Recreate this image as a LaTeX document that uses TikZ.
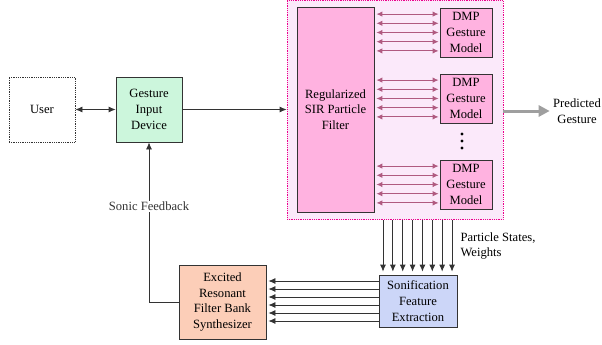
\documentclass[tikz,border=0pt]{standalone}
\usepackage{fontspec}
\setmainfont{Liberation Serif}
\usetikzlibrary{arrows.meta}

\definecolor{inputgreen}{RGB}{204,246,220}
\definecolor{filterpink}{RGB}{255,178,224}
\definecolor{cloudpink}{RGB}{251,233,250}
\definecolor{linkpink}{RGB}{176,90,128}
\definecolor{synthpeach}{RGB}{252,206,184}
\definecolor{featblue}{RGB}{204,214,248}

\tikzset{
  blk/.style={draw=black!80, line width=0.8pt, align=center, inner sep=1pt},
  link/.style={linkpink, line width=1pt, {Latex[length=6pt,width=5.5pt]}-{Latex[length=6pt,width=5.5pt]}},
  flow/.style={black!80, line width=0.8pt, -{Latex[length=7pt,width=6pt]}}
}

\begin{document}
\begin{tikzpicture}[x=1pt, y=-1pt, font=\fontsize{12.6}{15.7}\selectfont]
  \useasboundingbox (0,0) rectangle (602,345);

  % Particle filter group (dotted container)
  \node[draw=magenta, densely dotted, line width=0.8pt, fill=cloudpink,
        minimum width=216pt, minimum height=219pt] (cloud) at (395,110) {};
  \node[blk, fill=filterpink, minimum width=77pt, minimum height=205pt] (sir) at (335.5,109.5)
       {Regularized\\SIR Particle\\Filter};

  % Gesture models
  \node[blk, fill=filterpink, minimum width=52pt, minimum height=49pt] (dmpA) at (466,32.5) {DMP\\Gesture\\Model};
  \node[blk, fill=filterpink, minimum width=52pt, minimum height=49pt] (dmpB) at (466,98.5) {DMP\\Gesture\\Model};
  \node[blk, fill=filterpink, minimum width=52pt, minimum height=49pt] (dmpC) at (466,184.5) {DMP\\Gesture\\Model};
  \foreach \y in {134,141,148}
    \fill (462,\y) circle (1.6pt);

  % Links between filter and models
  \foreach \m in {dmpA, dmpB, dmpC}
    \foreach \dy in {-18.4,-9.2,0,9.2,18.4} {
      \path (\m.west) ++(-1,\dy) coordinate (tip);
      \draw[link] (sir.east |- tip) ++(2,0) -- (tip);
    }

  % User and input device
  \node[blk, draw=black!80, densely dotted, minimum width=66pt, minimum height=65pt] (user) at (42,109.5) {User};
  \node[blk, fill=inputgreen, minimum width=66pt, minimum height=65pt] (gid) at (149,109.5) {Gesture\\Input\\Device};
  \draw[flow, {Latex[length=7pt,width=6pt]}-{Latex[length=7pt,width=6pt]}] (user.east) -- (gid.west);
  \draw[flow] (gid.east) -- (gid.east -| cloud.west);

  % Output
  \node[align=center] (pred) at (577,111) {Predicted\\Gesture};
  \draw[gray!75, line width=3pt, -{Triangle[length=11pt,width=11pt]}] (cloud.east |- pred) -- (pred.west);

  % Sonification part
  \node[blk, fill=featblue, minimum width=78pt, minimum height=52pt] (feat) at (418,301) {Sonification\\Feature\\Extraction};
  \node[blk, fill=synthpeach, minimum width=87pt, minimum height=74pt] (synth) at (222.5,302)
       {Excited\\Resonant\\Filter Bank\\Synthesizer};

  \foreach \i in {0,...,7} {
    \coordinate (top) at (383+\i*9.86,220);
    \draw[flow] (top) -- (top |- feat.north) [shorten >=3pt];
  }
  \node[anchor=west, align=left] (states) at (457,246) {Particle States,\\Weights};

  \foreach \dy in {-20,-12,-4,4,12,20} {
    \path (feat.west) ++(0,\dy) coordinate (src);
    \draw[flow, shorten >=2pt] (src) -- (synth.east |- src);
  }

  % Feedback loop
  \draw[flow] (synth.west) -| (gid.south)
    node[pos=0.8, fill=white, inner sep=1pt] {Sonic Feedback};
\end{tikzpicture}
\end{document}
